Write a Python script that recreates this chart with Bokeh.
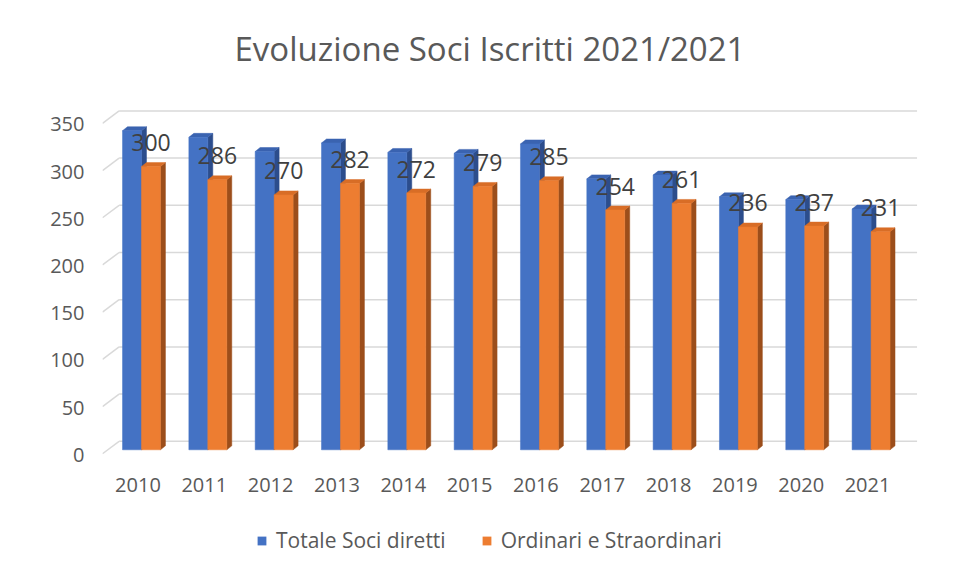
from bokeh.plotting import figure
from bokeh.layouts import column
from bokeh.models import (Range1d, LinearAxis, FixedTicker, Legend, LegendItem,
                          ColumnDataSource)
from bokeh.core.properties import value
from bokeh.embed import file_html
from bokeh.resources import INLINE

# ---------------- data ----------------
title_text = "Evoluzione Soci Iscritti 2021/2021"
years = ["2010", "2011", "2012", "2013", "2014", "2015",
         "2016", "2017", "2018", "2019", "2020", "2021"]
totale = [338, 331, 316, 325, 315, 314, 324, 287, 291, 268, 265, 255]
ordinari = [300, 286, 270, 282, 272, 279, 285, 254, 261, 236, 237, 231]
y_ticks = [0, 50, 100, 150, 200, 250, 300, 350]
series_names = ["Totale Soci diretti", "Ordinari e Straordinari"]

# ---------------- style ----------------
FONT = "Open Sans"
TXT = "#595959"
GRID = "#d9d9d9"
BLUE = ("#4472C4", "#3a63b0", "#2c4d8c")      # front, top, side
ORANGE = ("#ED7D31", "#d86d26", "#9c4e1b")

X0, X1 = -0.588, 11.70
Y0, Y1 = -8.16, 364.7
W = 0.286        # bar width (category units)
DX = 0.075       # 3D depth, x (category units)
DY = 4.2         # 3D depth, y (value units)


def strip(height):
    f = figure(width=937, height=height, output_backend="svg", toolbar_location=None,
               x_range=Range1d(0, 1), y_range=Range1d(0, 1), min_border=0,
               x_axis_location=None, y_axis_location=None)
    f.outline_line_color = None
    f.grid.visible = False
    return f


# ---------------- title strip ----------------
tt = strip(96)
tt.text(x=[0.5], y=[0.5], text=[title_text], text_align="center", text_baseline="middle",
        x_offset=-20, text_font=value(FONT), text_font_size="33px", text_color=TXT)

# ---------------- main chart ----------------
p = figure(width=937, height=424, output_backend="svg", toolbar_location=None,
           x_range=Range1d(X0, X1), y_range=Range1d(Y0, Y1),
           min_border_left=102, min_border_right=20,
           min_border_top=9, min_border_bottom=63,
           x_axis_location=None, y_axis_location=None)
p.outline_line_color = None
p.background_fill_color = "white"
p.border_fill_color = "white"
p.grid.visible = False

# 3D grid (back wall + left slant)
back_x0 = X0 + 0.25
gx0 = [back_x0] * len(y_ticks)
gx1 = [11.694] * len(y_ticks)
gy = [t + 9.0 for t in y_ticks]
p.segment(x0=gx0, y0=gy, x1=gx1, y1=gy, line_color=GRID, line_width=1.5)
p.segment(x0=[X0] * len(y_ticks), y0=[t - 4.2 for t in y_ticks],
          x1=gx0, y1=gy, line_color=GRID, line_width=1.5)

# bars
for s, (vals, cols) in enumerate([(totale, BLUE), (ordinari, ORANGE)]):
    left = [i - W + s * W for i in range(len(vals))]
    right = [l + W for l in left]
    side_xs = [[r, r + DX, r + DX, r] for r in right]
    side_ys = [[0, DY, v + DY, v] for v in vals]
    p.patches(xs=side_xs, ys=side_ys, fill_color=cols[2], line_color=cols[2], line_width=0.5)
    top_xs = [[l, l + DX, r + DX, r] for l, r in zip(left, right)]
    top_ys = [[v, v + DY, v + DY, v] for v in vals]
    p.patches(xs=top_xs, ys=top_ys, fill_color=cols[1], line_color=cols[1], line_width=0.5)
    src = ColumnDataSource(dict(left=left, right=right, top=vals, bottom=[0] * len(vals)))
    p.quad(left="left", right="right", top="top", bottom="bottom", source=src,
           fill_color=cols[0], line_color=cols[0], line_width=0.5)

# data labels
lbl = ColumnDataSource(dict(x=[i + W / 2 for i in range(len(ordinari))], y=ordinari,
                            t=[str(v) for v in ordinari]))
p.text(x="x", y="y", text="t", source=lbl, text_align="center", text_baseline="middle",
       y_offset=-24, text_font=value(FONT), text_font_size="23px", text_color="#404040")

# axes
p.extra_x_ranges = {"xa": Range1d(X0 + 0.053, X1 + 0.053)}
p.extra_y_ranges = {"ya": Range1d(Y0 + 5.3, Y1 + 5.3)}

xaxis = LinearAxis(x_range_name="xa", ticker=FixedTicker(ticks=list(range(len(years)))),
                   major_label_overrides={i: y for i, y in enumerate(years)})
yaxis = LinearAxis(y_range_name="ya", ticker=FixedTicker(ticks=y_ticks))
for ax in (xaxis, yaxis):
    ax.axis_line_color = None
    ax.major_tick_line_color = None
    ax.minor_tick_line_color = None
    ax.major_tick_out = 0
    ax.major_tick_in = 0
    ax.major_label_text_font = FONT
    ax.major_label_text_font_size = "20px"
    ax.major_label_text_color = TXT
xaxis.major_label_standoff = 20
yaxis.major_label_standoff = 18
p.add_layout(xaxis, "below")
p.add_layout(yaxis, "left")

# ---------------- legend strip ----------------
lg = strip(57)
lg.x_range = Range1d(1, 2)
lg.y_range = Range1d(1, 2)
lg_renderers = [lg.quad(left=[0], right=[0], top=[0], bottom=[0],
                        fill_color=c[0], line_color=None)
                for c in (BLUE, ORANGE)]
legend = Legend(items=[LegendItem(label=n, renderers=[r])
                       for n, r in zip(series_names, lg_renderers)],
                orientation="horizontal", location=(154, 23),
                glyph_width=11, glyph_height=11, label_standoff=9, spacing=35,
                padding=0, margin=0, border_line_color=None, background_fill_alpha=0,
                label_text_font=FONT, label_text_font_size="21px", label_text_color=TXT)
lg.add_layout(legend, "center")

layout = column(tt, p, lg, spacing=0)
open("out.html", "w").write(file_html(layout, INLINE))
